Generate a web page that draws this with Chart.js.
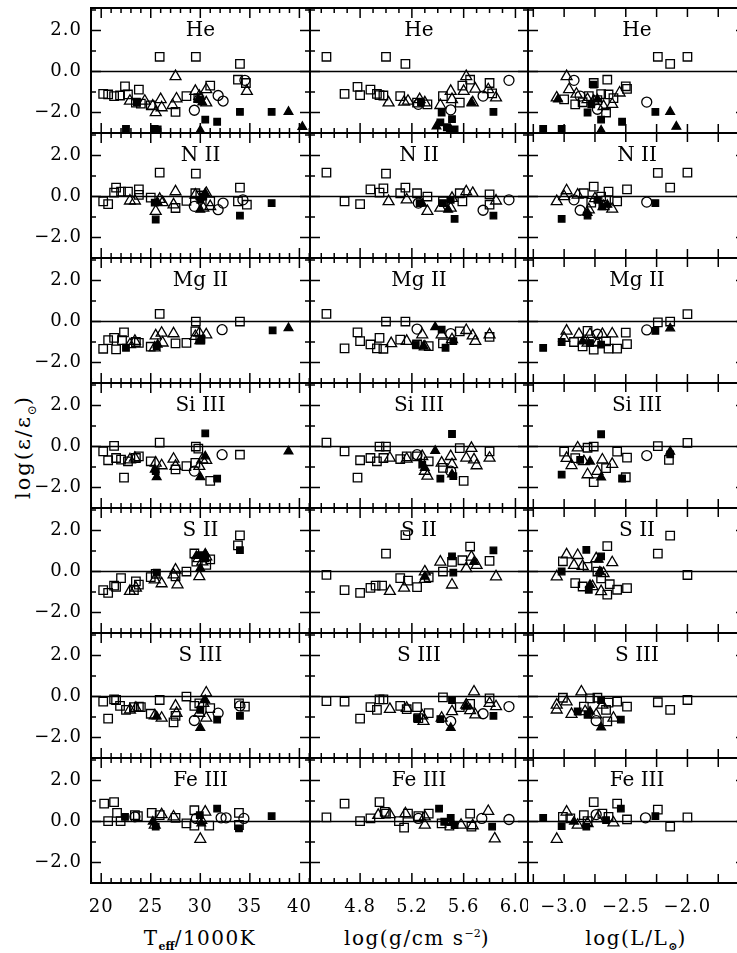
<!DOCTYPE html>
<html>
<head>
<meta charset="utf-8">
<script src="https://cdn.jsdelivr.net/npm/chart.js@4.4.1/dist/chart.umd.min.js"></script>
<style>
  body { margin: 0; width: 737px; height: 953px; overflow: hidden; background: #fff; position: relative; }
  canvas { position: absolute; }
  .ttl { position: absolute; top: 926px; transform: translateX(-50%); font: 20px "DejaVu Serif", serif; letter-spacing: 1.5px; white-space: nowrap; color: #000; }
  .ttl sub { font-size: 11px; font-weight: bold; letter-spacing: 0; }
  .ttl sup { font-size: 11px; letter-spacing: 0; }
  .ytl { position: absolute; left: 25px; top: 447px; transform: translate(-50%, -50%) rotate(-90deg); font: 21px "DejaVu Serif", serif; letter-spacing: 2px; white-space: nowrap; color: #000; }
  .ytl sub { font-size: 12px; letter-spacing: 0; }
</style>
</head>
<body>
<div class="ytl">log(ε/ε<sub>⊙</sub>)</div>
<div class="ttl" style="left:200px">T<sub>eff</sub>/1000K</div>
<div class="ttl" style="left:417px">log(g/cm s<sup>−2</sup>)</div>
<div class="ttl" style="left:636px">log(L/L<sub>⊙</sub>)</div>
<script>
// panel labels and tick labels
const ELEMENTS = ['He', 'N II', 'Mg II', 'Si III', 'S II', 'S III', 'Fe III'];
const TEFF_LABELS = [20, 25, 30, 35, 40];
const LOGG_LABELS = [4.8, 5.2, 5.6, 6.0];
const LOGL_LABELS = [-3.0, -2.5, -2.0];
const Y_LABELS = [-2, 0, 2];

// sq = open square, tri = open triangle, circ = open circle, fsq/ftri = filled
const HE_TEFF = {
  sq: [[20.2,-1.09],[20.7,-1.12],[21.3,-1.2],[21.9,-1.17],[22.4,-0.72],[22.7,-1.12],[23.8,-0.88],[23.5,-1.52],[24.0,-1.57],[25.0,-1.65],[25.9,0.72],[27.5,-1.97],[28.6,-1.2],[29.55,0.72],[29.8,-1.3],[31.0,-0.69],[34.0,0.37],[33.8,-0.4],[34.6,-0.56]],
  tri: [[22.9,-1.44],[24.4,-1.44],[25.2,-1.68],[25.5,-2.0],[26.0,-1.36],[26.1,-1.76],[27.5,-0.24],[27.6,-1.33],[27.2,-1.65],[29.5,-0.96],[29.9,-1.2],[30.6,-0.88],[30.6,-1.52],[34.7,-0.96]],
  circ: [[29.4,-1.89],[31.8,-1.17],[32.3,-1.44],[34.5,-0.43]],
  fsq: [[22.5,-2.8],[25.4,-2.8],[25.7,-2.83],[30.0,-1.36],[30.5,-2.35],[31.7,-2.45],[34.0,-1.97],[37.2,-1.97],[23.6,-1.5]],
  ftri: [[30.0,-2.88],[38.9,-1.97],[40.3,-2.7],[29.8,-1.36],[30.2,-1.5]]
};
const HE_LOGG = {
  sq: [[4.54,0.72],[5.0,0.72],[5.15,0.37],[4.68,-1.09],[4.78,-0.75],[4.8,-1.15],[4.88,-0.88],[4.93,-1.09],[4.95,-1.15],[4.98,-1.17],[5.11,-1.2],[5.24,-1.52],[5.32,-1.6],[5.44,-1.2],[5.57,-1.52],[5.59,-0.69],[5.65,-0.4],[5.8,-0.56],[5.82,-1.07]],
  tri: [[5.02,-1.52],[5.14,-1.49],[5.17,-1.44],[5.26,-1.36],[5.3,-1.52],[5.42,-1.65],[5.5,-0.96],[5.51,-1.36],[5.62,-0.24],[5.6,-0.96],[5.69,-0.85],[5.67,-1.52],[5.79,-0.88],[5.85,-1.28]],
  circ: [[5.5,-1.87],[5.75,-1.2],[5.95,-0.43],[5.25,-1.6]],
  fsq: [[5.42,-2.48],[5.51,-2.32],[5.47,-2.72],[5.53,-2.83],[5.83,-1.97],[5.43,-2.0],[5.27,-1.5]],
  ftri: [[5.39,-2.67],[5.5,-2.83],[5.66,-1.52]]
};
const HE_LOGL = {
  sq: [[-2.24,0.72],[-2.14,0.37],[-2.0,0.72],[-2.65,-0.4],[-2.76,-0.56],[-2.5,-0.72],[-2.49,-0.85],[-2.64,-1.12],[-2.91,-1.6],[-3.0,-1.36],[-2.66,-2.0],[-2.73,-1.4],[-2.8,-1.2],[-2.7,-1.1],[-2.85,-1.5],[-2.6,-1.3]],
  tri: [[-2.98,-0.24],[-2.96,-0.88],[-3.06,-1.28],[-2.55,-1.04],[-2.61,-1.6],[-2.81,-1.36],[-2.76,-1.44],[-2.9,-1.1],[-2.68,-1.7]],
  circ: [[-2.92,-0.43],[-2.87,-1.2],[-2.33,-1.49],[-2.73,-1.84]],
  fsq: [[-3.17,-2.8],[-3.02,-2.8],[-2.7,-2.35],[-2.53,-2.45],[-2.26,-1.97],[-2.76,-0.64],[-2.81,-2.0],[-2.78,-1.6]],
  ftri: [[-2.7,-2.88],[-2.14,-1.97],[-2.09,-2.69],[-3.05,-1.36],[-2.73,-1.36]]
};
const NII_TEFF = {
  sq: [[25.9,1.17],[29.55,1.12],[34.0,0.43],[20.2,-0.24],[20.7,-0.37],[21.5,0.43],[21.3,0.19],[22.0,0.24],[22.7,0.24],[23.8,0.35],[23.8,0.08],[25.0,-0.05],[27.5,-0.56],[28.6,-0.21],[29.5,0.16],[31.0,-0.24],[33.8,-0.24],[34.7,-0.4],[30.0,0.05]],
  tri: [[22.9,-0.21],[23.4,-0.21],[25.5,-0.72],[25.9,-0.13],[26.2,-0.29],[27.5,0.24],[27.3,-0.4],[29.5,0.08],[30.6,0.16],[30.3,-0.56],[31.0,-0.48]],
  circ: [[29.4,-0.48],[31.8,-0.64],[32.3,-0.32],[34.3,-0.16]],
  fsq: [[25.5,-1.12],[34.0,-0.93],[37.2,-0.32],[30.0,-0.16],[30.3,0.0],[25.4,-0.3]],
  ftri: [[30.0,-0.64],[30.5,0.16],[25.7,-0.29]]
};
const NII_LOGG = {
  sq: [[4.54,1.17],[5.0,1.12],[4.68,-0.24],[4.8,-0.37],[4.88,0.35],[4.95,0.19],[4.98,0.4],[5.11,0.16],[5.15,0.43],[5.24,0.16],[5.32,0.0],[5.44,-0.24],[5.59,-0.24],[5.57,0.16],[5.8,0.11],[5.8,-0.4]],
  tri: [[5.02,-0.24],[5.16,-0.16],[5.32,-0.72],[5.42,-0.56],[5.51,-0.08],[5.62,0.24],[5.67,0.16],[5.85,-0.21],[5.5,-0.56]],
  circ: [[5.95,-0.16],[5.75,-0.67],[5.25,-0.32]],
  fsq: [[5.53,-1.09],[5.83,-0.93],[5.44,-0.32],[5.5,-0.16],[5.26,-0.32]],
  ftri: [[5.48,-0.64],[5.28,-0.35]]
};
const NII_LOGL = {
  sq: [[-2.24,1.15],[-2.0,1.17],[-2.14,0.43],[-2.49,0.35],[-2.64,0.24],[-2.76,0.48],[-2.57,-0.24],[-2.7,0.0],[-2.84,0.16],[-2.78,-0.3],[-2.66,-0.2]],
  tri: [[-3.06,-0.24],[-2.98,0.29],[-3.0,0.0],[-2.8,-0.64],[-2.61,-0.61],[-2.68,-0.48],[-2.89,0.08],[-2.75,-0.1]],
  circ: [[-2.92,-0.16],[-2.87,-0.67],[-2.33,-0.27]],
  fsq: [[-3.02,-1.09],[-2.26,-0.32],[-2.81,-0.93],[-2.69,-0.48],[-2.73,-0.16]],
  ftri: [[-2.81,-0.8],[-2.65,-0.4]]
};
const MGII_TEFF = {
  sq: [[25.9,0.37],[29.55,0.0],[34.0,0.0],[20.2,-1.33],[20.7,-0.91],[21.5,-1.36],[21.3,-0.8],[22.3,-0.53],[22.1,-0.91],[23.8,-1.04],[23.5,-1.0],[25.0,-1.23],[27.5,-1.07],[28.6,-1.04],[29.5,-0.48],[30.0,-0.88]],
  tri: [[22.9,-1.12],[23.4,-0.96],[25.4,-1.28],[25.5,-0.69],[26.1,-0.56],[26.2,-1.04],[27.3,-0.59],[29.5,-0.72],[30.6,-0.64],[29.9,-0.56]],
  circ: [[32.2,-0.4]],
  fsq: [[22.5,-1.28],[37.3,-0.43],[30.1,-0.88],[25.6,-1.2]],
  ftri: [[38.9,-0.32],[29.9,-0.96],[25.7,-1.12]]
};
const MGII_LOGG = {
  sq: [[4.54,0.37],[5.0,0.0],[5.15,0.0],[4.68,-1.31],[4.8,-0.96],[4.78,-0.53],[4.88,-1.12],[4.93,-1.31],[4.95,-0.8],[4.98,-1.33],[5.11,-0.88],[5.24,-1.12],[5.33,-1.2],[5.44,-1.07],[5.57,-0.48],[5.8,-0.75]],
  tri: [[5.04,-1.07],[5.16,-0.96],[5.28,-0.64],[5.3,-1.23],[5.43,-0.64],[5.51,-0.88],[5.62,-0.43],[5.67,-0.69],[5.69,-0.96],[5.8,-0.64]],
  circ: [[5.24,-0.37],[5.5,-0.59]],
  fsq: [[5.43,-0.4],[5.46,-1.28],[5.52,-0.96],[5.23,-1.12]],
  ftri: [[5.38,-0.27],[5.29,-1.2]]
};
const MGII_LOGL = {
  sq: [[-2.24,-0.04],[-2.14,0.0],[-2.0,0.36],[-2.5,-0.54],[-2.49,-1.1],[-2.57,-1.32],[-2.64,-1.32],[-2.81,-0.46],[-2.92,-1.0],[-2.85,-1.21],[-2.76,-1.37],[-2.66,-0.97]],
  tri: [[-2.98,-0.46],[-2.88,-0.62],[-2.79,-0.62],[-2.69,-0.62],[-2.61,-0.6],[-3.0,-0.81],[-2.81,-1.05],[-2.73,-1.05]],
  circ: [[-2.33,-0.41],[-2.73,-0.62]],
  fsq: [[-3.17,-1.29],[-3.02,-1.0],[-2.26,-0.46],[-2.79,-1.05],[-2.7,-1.13]],
  ftri: [[-2.14,-0.33],[-2.85,-0.97]]
};
const SIIII_TEFF = {
  sq: [[25.9,0.19],[29.55,0.0],[34.0,-0.4],[20.2,-0.24],[20.7,-0.67],[21.3,0.03],[21.5,-0.56],[22.3,-1.52],[22.0,-0.64],[22.7,-0.72],[23.8,-0.48],[23.5,-0.56],[25.0,-0.72],[27.5,-1.12],[28.6,-0.96],[29.5,-0.8],[31.0,-1.68],[29.8,-0.1]],
  tri: [[22.9,-0.64],[23.4,-0.56],[25.5,-0.8],[26.1,-0.93],[27.3,-0.61],[27.5,-0.96],[30.2,-0.64],[30.6,-0.67],[29.9,-0.96]],
  circ: [[32.2,-0.4],[29.4,-1.2]],
  fsq: [[30.5,0.64],[31.7,-1.57],[25.5,-1.2]],
  ftri: [[38.9,-0.24],[30.0,-1.49],[25.6,-1.49],[30.5,-0.48],[25.4,-1.12]]
};
const SIIII_LOGG = {
  sq: [[4.54,0.19],[4.68,-0.24],[4.78,-1.52],[4.8,-0.67],[4.88,-0.56],[4.93,-0.72],[4.95,0.0],[5.0,0.0],[4.98,-0.56],[5.11,-0.61],[5.16,-0.48],[5.24,-0.48],[5.33,-0.72],[5.44,-1.04],[5.57,-0.08],[5.6,-1.68],[5.8,-0.24]],
  tri: [[5.03,-0.56],[5.16,-0.61],[5.28,-0.48],[5.3,-1.2],[5.32,-1.44],[5.43,-0.8],[5.5,-0.48],[5.51,-0.88],[5.62,-0.56],[5.66,-0.08],[5.68,-0.64],[5.7,-0.93],[5.8,-0.56]],
  circ: [[5.24,-0.4],[5.5,-1.2]],
  fsq: [[5.51,0.61],[5.42,-1.57],[5.52,-1.44],[5.28,-0.88]],
  ftri: [[5.38,-0.21],[5.3,-1.04],[5.51,-1.36]]
};
const SIIII_LOGL = {
  sq: [[-2.24,0.02],[-2.0,0.18],[-2.15,-0.65],[-2.49,-0.54],[-2.57,-0.25],[-3.0,-0.25],[-2.81,-0.06],[-2.76,0.0],[-2.76,-1.74],[-2.5,-1.5],[-2.66,-1.05],[-2.91,-0.57]],
  tri: [[-2.89,-0.06],[-2.98,-0.57],[-2.94,-0.92],[-2.81,-1.37],[-2.73,-1.21],[-2.61,-0.86],[-2.84,-0.73],[-2.69,-0.65]],
  circ: [[-2.33,-0.44]],
  fsq: [[-2.7,0.6],[-3.02,-1.37],[-2.53,-1.56],[-2.14,-0.38],[-2.87,-0.65]],
  ftri: [[-2.7,-1.5],[-2.14,-0.25],[-2.79,-0.73]]
};
const SII_TEFF = {
  sq: [[34.0,1.76],[33.8,1.28],[20.2,-0.91],[20.7,-1.04],[21.3,-0.69],[21.5,-0.75],[22.0,-0.32],[23.3,-0.91],[23.5,-0.48],[23.8,-0.64],[25.0,-0.27],[25.5,-0.11],[27.5,-0.24],[28.6,0.0],[29.4,0.88],[29.6,0.48],[31.0,0.59],[30.6,0.32]],
  tri: [[22.9,-0.96],[23.5,-0.8],[25.4,-0.4],[26.1,-0.59],[27.5,0.08],[27.7,-0.64],[27.3,-0.16],[29.9,-0.24],[29.8,0.64],[30.6,0.72],[30.2,0.48]],
  circ: [],
  fsq: [[34.0,1.04],[30.0,0.8],[30.5,0.64],[25.6,-0.05]],
  ftri: [[30.5,0.88],[30.0,0.16],[29.6,0.76]]
};
const SII_LOGG = {
  sq: [[4.54,-0.16],[4.68,-0.91],[4.8,-1.04],[4.88,-0.8],[4.92,-0.69],[4.97,-0.69],[5.0,0.87],[5.15,1.78],[5.11,-0.32],[5.17,-0.44],[5.24,-0.76],[5.33,-0.28],[5.44,0.0],[5.51,0.47],[5.59,0.55],[5.65,1.22],[5.8,0.52]],
  tri: [[5.03,-0.96],[5.14,-0.8],[5.3,-0.01],[5.3,-0.38],[5.42,0.47],[5.51,-0.65],[5.62,0.15],[5.66,0.71],[5.7,0.31],[5.85,-0.25]],
  circ: [],
  fsq: [[5.51,0.74],[5.83,1.03],[5.52,-0.05]],
  ftri: [[5.3,-0.25],[5.68,0.47]]
};
const SII_LOGL = {
  sq: [[-2.14,1.75],[-2.24,0.87],[-2.0,-0.17],[-2.65,1.24],[-3.01,0.5],[-2.91,-0.57],[-2.85,-0.73],[-2.65,-1.13],[-2.57,-0.89],[-2.49,-0.81],[-2.63,-0.62],[-2.73,0.0],[-2.7,-0.33],[-2.81,0.23]],
  tri: [[-3.06,-0.25],[-2.98,0.82],[-2.89,0.79],[-2.92,0.31],[-2.85,0.26],[-2.74,0.63],[-2.61,0.44],[-2.77,-0.73],[-2.7,-0.97],[-2.68,-0.09]],
  circ: [],
  fsq: [[-2.82,1.06],[-2.7,0.74],[-3.02,0.0],[-2.8,-0.89]],
  ftri: [[-2.71,0.0],[-2.72,0.58],[-2.79,-0.65]]
};
const SIII_TEFF = {
  sq: [[20.2,-0.25],[20.7,-1.08],[21.3,-0.14],[21.5,-0.17],[21.9,-0.46],[22.5,-0.65],[23.3,-0.52],[23.8,-0.49],[24.0,-0.52],[25.0,-0.84],[25.9,-0.17],[27.3,-1.26],[27.5,-0.94],[28.6,0.0],[29.4,-0.46],[29.9,-0.33],[31.0,-0.57],[33.9,-0.33],[34.5,-0.49]],
  tri: [[22.9,-0.65],[23.5,-0.57],[25.4,-0.94],[26.1,-1.05],[27.5,-0.46],[27.6,-0.81],[29.9,-0.81],[30.6,0.18],[30.6,-1.05],[30.3,-0.33]],
  circ: [[29.4,-1.17],[31.8,-0.81],[34.0,-0.46]],
  fsq: [[31.7,-1.13],[34.0,-0.94],[30.0,-0.65]],
  ftri: [[30.0,-1.53],[30.5,-0.17],[25.6,-0.97]]
};
const SIII_LOGG = {
  sq: [[4.54,-0.22],[4.68,-0.25],[4.8,-1.08],[4.88,-0.52],[4.93,-0.65],[4.95,-0.14],[4.98,-0.14],[5.11,-0.46],[5.16,-0.62],[5.24,-0.52],[5.25,-1.05],[5.33,-0.81],[5.44,-0.04],[5.57,-0.52],[5.65,-0.36],[5.8,-0.09]],
  tri: [[5.03,-0.62],[5.16,-0.57],[5.28,-0.94],[5.29,-1.21],[5.43,-1.05],[5.51,-0.73],[5.62,-0.41],[5.68,0.23],[5.69,-0.89],[5.65,-0.68],[5.85,-0.49],[5.8,-0.33]],
  circ: [[5.5,-1.21],[5.75,-0.84],[5.95,-0.49]],
  fsq: [[5.42,-1.1],[5.51,-0.17],[5.83,-0.94],[5.24,-1.05]],
  ftri: [[5.5,-1.53],[5.62,-0.49]]
};
const SIII_LOGL = {
  sq: [[-2.24,-0.28],[-2.14,-0.65],[-2.0,-0.17],[-2.49,-0.49],[-2.57,-0.25],[-2.64,-0.3],[-2.73,-0.06],[-2.79,-0.09],[-3.01,-0.06],[-2.84,-0.49],[-2.66,-0.65],[-2.65,-1.21]],
  tri: [[-3.06,-0.41],[-3.06,-0.65],[-2.98,-0.25],[-2.86,0.23],[-2.94,-0.86],[-2.83,-0.73],[-2.69,-0.41],[-2.6,-1.05],[-2.74,-0.89]],
  circ: [[-2.74,-1.18]],
  fsq: [[-2.54,-1.13],[-2.89,-0.73],[-2.81,-0.89],[-2.7,-0.17]],
  ftri: [[-2.7,-1.5],[-2.79,-0.73]]
};
const FEIII_TEFF = {
  sq: [[20.3,0.87],[21.3,0.95],[20.7,0.02],[21.6,0.42],[21.96,0.02],[23.4,0.31],[23.7,0.26],[25.1,0.42],[25.9,0.31],[27.5,0.18],[28.6,-0.09],[29.4,0.55],[29.4,-0.2],[30.9,-0.2],[33.9,0.42],[33.9,-0.17]],
  tri: [[25.4,-0.17],[26.1,0.34],[27.3,0.23],[30.0,-0.86],[30.5,0.47],[30.1,0.07]],
  circ: [[32.1,0.18],[32.6,0.18],[34.4,0.15],[29.6,0.15],[23.4,0.23]],
  fsq: [[31.7,0.63],[37.2,0.26],[33.9,-0.33],[25.5,-0.25],[22.4,0.23],[29.95,0.31]],
  ftri: [[30.1,-0.09],[25.2,0.0]]
};
const FEIII_LOGG = {
  sq: [[4.54,0.2],[4.68,0.87],[4.8,0.02],[4.88,0.15],[4.95,0.95],[4.99,0.47],[5.0,0.39],[5.1,0.02],[5.14,-0.3],[5.17,0.39],[5.25,0.26],[5.33,0.39],[5.43,-0.09],[5.49,-0.2],[5.65,0.39],[5.66,-0.25]],
  tri: [[4.94,0.31],[5.03,0.34],[5.15,0.39],[5.3,-0.17],[5.3,0.23],[5.67,-0.2],[5.79,0.5],[5.84,-0.84],[5.58,-0.17]],
  circ: [[5.74,0.15],[5.95,0.1],[5.25,0.15]],
  fsq: [[5.41,0.63],[5.5,0.18],[5.53,-0.17],[5.82,-0.25],[5.45,-0.01]],
  ftri: [[5.51,-0.06]]
};
const FEIII_LOGL = {
  sq: [[-2.76,0.95],[-2.57,0.87],[-2.24,0.58],[-2.49,0.1],[-2.14,-0.25],[-2.0,0.2],[-2.64,0.23],[-2.69,0.39],[-2.84,0.31],[-2.95,0.15],[-3.01,0.23],[-2.81,0.02]],
  tri: [[-3.06,-0.86],[-2.98,0.47],[-2.89,-0.17],[-2.81,-0.09],[-2.6,-0.06],[-2.73,0.15]],
  circ: [[-2.34,0.18],[-2.74,0.34]],
  fsq: [[-3.17,0.18],[-3.02,-0.22],[-2.54,0.63],[-2.26,0.26],[-2.82,-0.25],[-2.66,0.07]],
  ftri: [[-2.92,0.0]]
};

const PANELS = [
  [HE_TEFF, HE_LOGG, HE_LOGL],
  [NII_TEFF, NII_LOGG, NII_LOGL],
  [MGII_TEFF, MGII_LOGG, MGII_LOGL],
  [SIIII_TEFF, SIIII_LOGG, SIIII_LOGL],
  [SII_TEFF, SII_LOGG, SII_LOGL],
  [SIII_TEFF, SIII_LOGG, SIII_LOGL],
  [FEIII_TEFF, FEIII_LOGG, FEIII_LOGL]
];

// layout
const COL_EDGES = [91, 310, 528, 746];
const ROW_TOP = 8, ROW_H = 125, PAGE_H = 953;
const X_RANGE = [[18.97, 41.07], [4.413, 6.097], [-3.293, -1.525]];
const Y_RANGE = [-3, 3.1];
const X_LABELS = [TEFF_LABELS, LOGG_LABELS, LOGL_LABELS];
const X_MINOR = [1, 0.1, 0.25];

const MARKERS = {
  ftri: { pointStyle: 'triangle', radius: 5, fill: true },
  fsq: { pointStyle: 'rect', radius: 4.6, fill: true },
  circ: { pointStyle: 'circle', radius: 5, fill: false },
  tri: { pointStyle: 'triangle', radius: 6.3, fill: false },
  sq: { pointStyle: 'rect', radius: 6, fill: false }
};

const TICK_FONT = { family: '"DejaVu Serif", serif', size: 18 };

function fmt(v, dec) {
  const s = Math.abs(v).toFixed(dec);
  return v < 0 ? '\u2212' + s : s;
}

function isMajorX(col, v) {
  if (col === 0) return Math.abs(v / 5 - Math.round(v / 5)) < 1e-6;
  if (col === 1) return LOGG_LABELS.some(l => Math.abs(l - v) < 1e-6) || Math.abs(v - 4.4) < 1e-6;
  return true;
}

const panelFrame = {
  id: 'panelFrame',
  beforeDraw(chart) {
    chart.ctx.letterSpacing = '1px';
  },
  beforeDatasetsDraw(chart, args, opts) {
    const { ctx, chartArea: a, scales: { x, y } } = chart;
    const col = opts.col;
    ctx.save();
    ctx.strokeStyle = '#000';
    ctx.lineCap = 'butt';

    // zero line
    ctx.lineWidth = 1.3;
    const y0 = y.getPixelForValue(0);
    ctx.beginPath();
    ctx.moveTo(a.left, y0); ctx.lineTo(a.right, y0);
    ctx.stroke();

    // inward tick marks
    ctx.lineWidth = 1.5;
    ctx.beginPath();
    const step = X_MINOR[col];
    for (let k = Math.ceil(x.min / step - 1e-9); k * step <= x.max + 1e-9; k++) {
      const v = +(k * step).toFixed(4);
      const px = x.getPixelForValue(v);
      const len = col === 2 ? 9 : (isMajorX(col, v) ? 10 : 5);
      ctx.moveTo(px, a.top); ctx.lineTo(px, a.top + len);
      ctx.moveTo(px, a.bottom); ctx.lineTo(px, a.bottom - len);
    }
    for (let v = Math.ceil(y.min); v <= y.max; v++) {
      const py = y.getPixelForValue(v);
      const len = v % 2 === 0 ? 10 : 5;
      ctx.moveTo(a.left, py); ctx.lineTo(a.left + len, py);
      ctx.moveTo(a.right, py); ctx.lineTo(a.right - len, py);
    }
    ctx.stroke();

    // frame
    ctx.lineWidth = 2;
    ctx.strokeRect(a.left, a.top, a.right - a.left, a.bottom - a.top);

    // element name
    ctx.fillStyle = '#000';
    ctx.font = '20px "DejaVu Serif", serif';
    ctx.letterSpacing = '0px';
    ctx.textAlign = 'center';
    ctx.textBaseline = 'middle';
    ctx.fillText(opts.title, (a.left + a.right) / 2, a.top + 23);
    ctx.restore();
  }
};

function makePanel(r, c) {
  const left = c === 0 ? 0 : COL_EDGES[c];
  const padTop = r === 0 ? ROW_TOP : 0;
  const top = r === 0 ? 0 : ROW_TOP + r * ROW_H;
  const w = COL_EDGES[c + 1] - left;
  const h = r === 6 ? PAGE_H - top : ROW_H + padTop;
  const extraBottom = h - padTop - ROW_H;

  const cv = document.createElement('canvas');
  cv.width = w; cv.height = h;
  cv.style.left = left + 'px'; cv.style.top = top + 'px';
  cv.style.width = w + 'px'; cv.style.height = h + 'px';
  document.body.appendChild(cv);

  const src = PANELS[r][c];
  const datasets = Object.keys(MARKERS).map(key => ({
    label: key,
    data: src[key].map(p => ({ x: p[0], y: p[1] })),
    pointStyle: MARKERS[key].pointStyle,
    pointRadius: MARKERS[key].radius,
    pointBorderWidth: 1.3,
    pointBorderColor: '#000',
    pointBackgroundColor: MARKERS[key].fill ? '#000' : 'rgba(0,0,0,0)',
    showLine: false
  }));

  new Chart(cv, {
    type: 'scatter',
    data: { datasets },
    options: {
      responsive: false,
      animation: false,
      events: [],
      layout: { padding: { top: padTop, left: 0, right: 0, bottom: 0 }, autoPadding: false },
      plugins: {
        legend: { display: false },
        tooltip: { enabled: false },
        panelFrame: { title: ELEMENTS[r], col: c }
      },
      scales: {
        x: {
          type: 'linear',
          min: X_RANGE[c][0], max: X_RANGE[c][1],
          grid: { display: false, drawTicks: false },
          border: { display: false },
          ticks: {
            display: r === 6, padding: 14, color: '#000', font: TICK_FONT,
            autoSkip: false, maxRotation: 0,
            callback: v => fmt(v, c === 0 ? 0 : 1)
          },
          afterBuildTicks: s => { s.ticks = X_LABELS[c].map(v => ({ value: v })); },
          afterFit: s => { s.height = extraBottom; s.paddingLeft = 0; s.paddingRight = 0; }
        },
        y: {
          type: 'linear',
          min: Y_RANGE[0], max: Y_RANGE[1],
          grid: { display: false, drawTicks: false },
          border: { display: false },
          ticks: {
            display: c === 0, padding: 9, color: '#000', font: TICK_FONT,
            autoSkip: false,
            callback: v => fmt(v, 1)
          },
          afterBuildTicks: s => { s.ticks = Y_LABELS.map(v => ({ value: v })); },
          afterFit: s => { s.width = c === 0 ? COL_EDGES[0] : 0; s.paddingTop = 0; s.paddingBottom = 0; }
        }
      }
    },
    plugins: [panelFrame]
  });
}

for (let r = 0; r < 7; r++) {
  for (let c = 0; c < 3; c++) makePanel(r, c);
}
</script>
</body>
</html>
